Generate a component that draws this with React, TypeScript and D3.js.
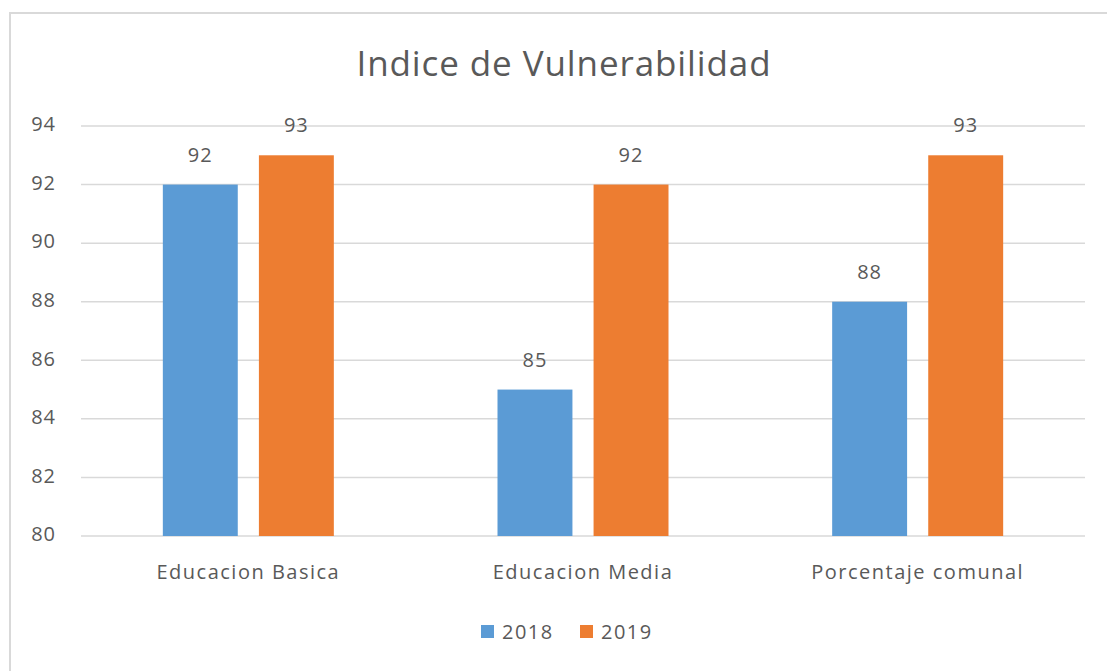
import { scaleBand, scaleLinear } from "d3";
import type { ReactElement } from "react";

const categories = ["Educacion Basica", "Educacion Media", "Porcentaje comunal"];
const seriesNames = ["2018", "2019"];
const values2018 = [92, 85, 88];
const values2019 = [93, 92, 93];
const yTicks = [80, 82, 84, 86, 88, 90, 92, 94];

const colors = ["#5B9BD5", "#ED7D31"];
const textColor = "#595959";
const fontFamily = "'Open Sans', 'Noto Sans', sans-serif";

const App = (): ReactElement => {
  const width = 1107;
  const height = 671;
  const margin = { top: 126, right: 22, bottom: 135, left: 81 } as const;
  const groupWidth = 171;

  const x = scaleBand<string>()
    .domain(categories)
    .range([margin.left, width - margin.right]);

  const inner = scaleBand<string>()
    .domain(seriesNames)
    .range([0, groupWidth])
    .paddingInner(0.22);

  const y = scaleLinear()
    .domain([80, 94])
    .range([height - margin.bottom, margin.top]);

  const series = [values2018, values2019];

  return (
    <svg
      width={width}
      height={height}
      style={{ position: "absolute", left: 0, top: 0, background: "#fff" }}
      fontFamily={fontFamily}
    >
      <rect x={10} y={13} width={1110} height={680} fill="#fff" stroke="#D9D9D9" strokeWidth={2} />

      <text x={564} y={76} textAnchor="middle" fontSize={35} letterSpacing={0.9} fill={textColor}>
        Indice de Vulnerabilidad
      </text>

      {yTicks.map((tick) => (
        <g key={`y-${tick}`}>
          <line
            x1={margin.left}
            x2={width - margin.right}
            y1={y(tick)}
            y2={y(tick)}
            stroke="#D9D9D9"
            strokeWidth={1.5}
          />
          <text
            x={56}
            y={y(tick)}
            textAnchor="end"
            dominantBaseline="middle"
            fontSize={20}
            letterSpacing={1}
            fill={textColor}
          >
            {tick}
          </text>
        </g>
      ))}

      {categories.map((cat, ci) => {
        const bandX = x(cat) ?? 0;
        const groupX = bandX + (x.bandwidth() - groupWidth) / 2;
        return (
          <g key={cat}>
            {seriesNames.map((name, si) => {
              const v = series[si][ci];
              const bx = groupX + (inner(name) ?? 0);
              return (
                <g key={name}>
                  <rect
                    x={bx}
                    y={y(v)}
                    width={inner.bandwidth()}
                    height={y(80) - y(v)}
                    fill={colors[si]}
                  />
                  <text
                    x={bx + inner.bandwidth() / 2}
                    y={y(v) - 23}
                    textAnchor="middle"
                    fontSize={20}
                    letterSpacing={1}
                    fill={textColor}
                  >
                    {v}
                  </text>
                </g>
              );
            })}
            <text
              x={bandX + x.bandwidth() / 2}
              y={579}
              textAnchor="middle"
              fontSize={20}
              letterSpacing={1.5}
              fill={textColor}
            >
              {cat}
            </text>
          </g>
        );
      })}

      {seriesNames.map((name, si) => {
        const lx = 481 + si * 99;
        return (
          <g key={`legend-${name}`}>
            <rect x={lx} y={625} width={13} height={13} fill={colors[si]} />
            <text x={lx + 21} y={639} fontSize={20} letterSpacing={1.5} fill={textColor}>
              {name}
            </text>
          </g>
        );
      })}
    </svg>
  );
};

export default App;
